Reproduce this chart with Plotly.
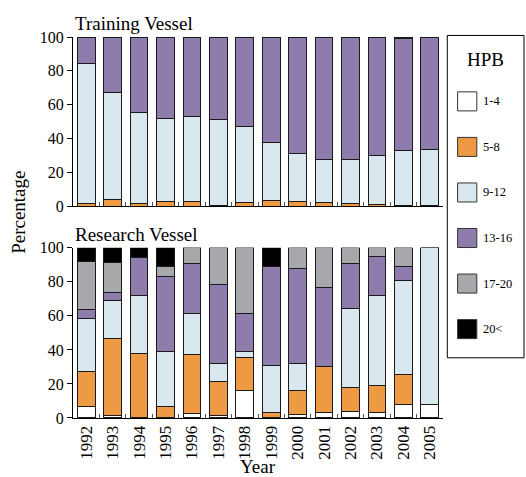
import plotly.graph_objects as go

years = ["1992", "1993", "1994", "1995", "1996", "1997", "1998", "1999",
         "2000", "2001", "2002", "2003", "2004", "2005"]
categories = ["1-4", "5-8", "9-12", "13-16", "17-20", "20<"]
colors = ["#FFFFFF", "#EE9A44", "#D8E8EE", "#8E7CAD", "#A7A8AB", "#000000"]

# Training Vessel (percent per HPB class)
tv_1_4 = [0, 0, 0, 0, 0, 0, 0, 0, 0, 0, 0, 0, 0, 0]
tv_5_8 = [1.6, 3.8, 1.5, 2.6, 3.0, 0.5, 2.4, 3.2, 2.8, 2.2, 1.6, 1.0, 0.5, 0.3]
tv_9_12 = [83.0, 63.3, 54.1, 49.1, 50.1, 51.0, 44.8, 34.7, 28.2, 25.4, 26.0, 29.0, 32.5, 33.2]
tv_13_16 = [15.4, 32.9, 44.4, 48.3, 46.9, 48.5, 52.8, 62.1, 69.0, 72.4, 72.4, 70.0, 66.2, 66.5]
tv_17_20 = [0, 0, 0, 0, 0, 0, 0, 0, 0, 0, 0, 0, 0, 0]
tv_20p = [0, 0, 0, 0, 0, 0, 0, 0, 0, 0, 0, 0, 0.8, 0]

# Research Vessel (percent per HPB class)
rv_1_4 = [6.5, 1.2, 0, 0, 2.9, 1.6, 16.1, 0, 1.8, 3.5, 3.9, 3.3, 8.2, 8.2]
rv_5_8 = [20.6, 45.3, 37.8, 6.9, 34.2, 19.8, 19.2, 3.1, 14.1, 26.9, 13.9, 15.9, 17.1, 0]
rv_9_12 = [31.1, 22.3, 34.4, 32.1, 24.1, 10.4, 3.5, 27.7, 15.9, 0, 46.3, 52.8, 55.5, 91.8]
rv_13_16 = [5.3, 4.7, 22.3, 44.1, 29.6, 46.6, 22.4, 58.4, 56.2, 46.5, 26.9, 22.7, 8.4, 0]
rv_17_20 = [28.5, 18.1, 0, 5.7, 9.2, 21.6, 38.8, 0, 12.0, 23.1, 9.0, 5.3, 10.8, 0]
rv_20p = [8.0, 8.4, 5.5, 11.2, 0, 0, 0, 10.8, 0, 0, 0, 0, 0, 0]

tv_series = [tv_1_4, tv_5_8, tv_9_12, tv_13_16, tv_17_20, tv_20p]
rv_series = [rv_1_4, rv_5_8, rv_9_12, rv_13_16, rv_17_20, rv_20p]

FONT = "Liberation Serif, Times New Roman, serif"

fig = go.Figure()
for i, cat in enumerate(categories):
    fig.add_trace(go.Bar(x=years, y=tv_series[i], name=cat, marker_color=colors[i],
                         marker_line=dict(color="#1a1a1a", width=1),
                         xaxis="x", yaxis="y", showlegend=False))
for i, cat in enumerate(categories):
    fig.add_trace(go.Bar(x=years, y=rv_series[i], name=cat, marker_color=colors[i],
                         marker_line=dict(color="#1a1a1a", width=1),
                         xaxis="x2", yaxis="y2", showlegend=False))

axis_common = dict(showline=True, linecolor="black", linewidth=1, showgrid=False,
                   zeroline=False, mirror=False)
fig.update_layout(
    width=526, height=477,
    margin=dict(l=73, r=83, t=37, b=59),
    barmode="stack", bargap=0.333,
    plot_bgcolor="white", paper_bgcolor="white",
    font=dict(family=FONT, size=16, color="black"),
    xaxis=dict(domain=[0, 1], anchor="y", showticklabels=False, ticks="inside",
               tickson="boundaries", ticklen=4, tickcolor="#555", **axis_common),
    yaxis=dict(domain=[0.556, 1], anchor="x", range=[0, 100], tickvals=[0, 20, 40, 60, 80, 100],
               ticks="outside", ticklen=5, tickcolor="black", **axis_common),
    xaxis2=dict(domain=[0, 1], anchor="y2", ticks="inside", tickson="boundaries", ticklen=4,
                tickcolor="#555", tickangle=-90, tickfont=dict(size=17), **axis_common),
    yaxis2=dict(domain=[0, 0.4467], anchor="x2", range=[0, 100], tickvals=[0, 20, 40, 60, 80, 100],
                ticks="outside", ticklen=5, tickcolor="black", **axis_common),
)

# Panel titles and axis titles
fig.add_annotation(text="Training Vessel", xref="paper", yref="paper", x=0.0, y=1.0,
                   xanchor="left", yanchor="bottom", showarrow=False, font=dict(size=19), yshift=1)
fig.add_annotation(text="Research Vessel", xref="paper", yref="paper", x=0.0, y=0.4467,
                   xanchor="left", yanchor="bottom", showarrow=False, font=dict(size=19), yshift=1)
fig.add_annotation(text="Percentage", xref="paper", yref="paper", x=-0.147, y=0.54,
                   xanchor="center", yanchor="middle", textangle=-90, showarrow=False,
                   font=dict(size=19))
fig.add_annotation(text="Year", xref="paper", yref="paper", x=0.5, y=-0.128,
                   xanchor="center", yanchor="middle", showarrow=False, font=dict(size=19))

# Manual legend box
lx0, lx1 = 1.0116, 1.219
fig.add_shape(type="rect", xref="paper", yref="paper", x0=lx0, x1=lx1, y0=0.158, y1=1.004,
              line=dict(color="black", width=1), fillcolor="white")
fig.add_annotation(text="HPB", xref="paper", yref="paper", x=(lx0 + lx1) / 2, y=0.941,
                   xanchor="center", yanchor="middle", showarrow=False, font=dict(size=19))
for i, cat in enumerate(categories):
    ypix = 102 + i * 45.5
    yc = (418.3 - ypix) / 380.6
    h = 19 / 380.6
    fig.add_shape(type="rect", xref="paper", yref="paper",
                  x0=(457.3 - 72.7) / 370, x1=(476.5 - 72.7) / 370, y0=yc - h / 2, y1=yc + h / 2,
                  fillcolor=colors[i], line=dict(color="#333", width=1))
    fig.add_annotation(text=cat, xref="paper", yref="paper", x=(481 - 72.7) / 370, y=yc,
                       xanchor="left", yanchor="middle", showarrow=False, font=dict(size=12.5))

fig.write_html("out.html", config={"displayModeBar": False},
               post_script="document.body.style.margin='0';document.body.style.overflow='hidden';")
